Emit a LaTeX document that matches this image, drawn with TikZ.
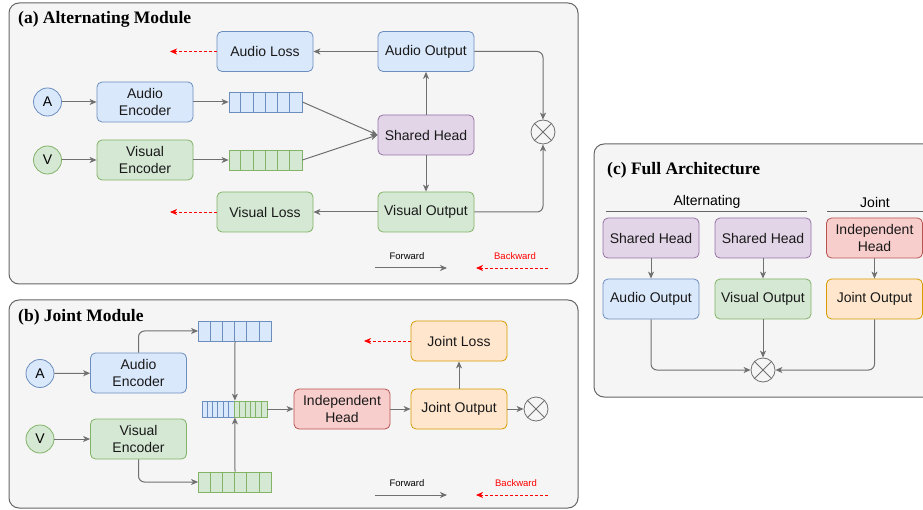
\documentclass[tikz,border=0pt]{standalone}
\usepackage{fontspec}
\setmainfont{Liberation Sans}
\newfontfamily\titlefont{Liberation Serif}
\usetikzlibrary{arrows.meta}

\definecolor{panelfill}{HTML}{F5F5F5}
\definecolor{panelline}{HTML}{666666}
\definecolor{arrowgray}{HTML}{707070}
\definecolor{bluefill}{HTML}{DAE8FC}
\definecolor{blueline}{HTML}{6C8EBF}
\definecolor{greenfill}{HTML}{D5E8D4}
\definecolor{greenline}{HTML}{82B366}
\definecolor{purplefill}{HTML}{E1D5E7}
\definecolor{purpleline}{HTML}{9673A6}
\definecolor{redfill}{HTML}{F8CECC}
\definecolor{redline}{HTML}{B85450}
\definecolor{orangefill}{HTML}{FFE6CC}
\definecolor{orangeline}{HTML}{D79B00}
\definecolor{backred}{HTML}{FF0000}

\newcommand{\boxfont}{\fontsize{14}{16.5}\selectfont}
\newcommand{\legendfont}{\fontsize{9.5}{11}\selectfont}
\newcommand{\panelfont}{\titlefont\bfseries\fontsize{17.5}{20}\selectfont}

\tikzset{
  panel/.style={fill=panelfill, draw=panelline, line width=1pt, rounded corners=10pt},
  paneltitle/.style={anchor=west, inner sep=0pt, font=\panelfont},
  box/.style={rounded corners=5pt, minimum width=96pt, minimum height=40pt,
    inner sep=0pt, align=center, font=\boxfont, line width=0.8pt, text=black!90},
  bluebox/.style={box, fill=bluefill, draw=blueline},
  greenbox/.style={box, fill=greenfill, draw=greenline},
  purplebox/.style={box, fill=purplefill, draw=purpleline},
  redbox/.style={box, fill=redfill, draw=redline},
  orangebox/.style={box, fill=orangefill, draw=orangeline},
  inputnode/.style={circle, minimum size=28pt, inner sep=0pt, font=\boxfont, line width=0.8pt},
  bluein/.style={inputnode, fill=bluefill, draw=blueline},
  greenin/.style={inputnode, fill=greenfill, draw=greenline},
  tokens/.style={minimum width=73pt, minimum height=20pt, inner sep=0pt, line width=0.8pt},
  bluetok/.style={tokens, fill=bluefill, draw=blueline},
  greentok/.style={tokens, fill=greenfill, draw=greenline},
  halftok/.style={minimum width=32.5pt, minimum height=16pt, inner sep=0pt, line width=0.8pt},
  combine/.style={circle, minimum size=24pt, inner sep=0pt, draw=arrowgray, line width=0.8pt},
  fwd/.style={draw=arrowgray, line width=1pt, -{Stealth[length=7pt, width=6pt, inset=2pt]}},
  bwd/.style={draw=backred, line width=0.9pt, dash pattern=on 3pt off 2pt,
    -{Stealth[length=7pt, width=6pt, inset=2pt]}},
  elbow/.style={fwd, rounded corners=6pt},
  legendtext/.style={font=\legendfont, inner sep=0pt},
  grouptext/.style={font=\boxfont, inner sep=0pt},
}

% cell dividers inside a token row
\newcommand{\cells}[4]{% node, number of cells, cell width, colour
  \foreach \i in {1,...,#2}{
    \draw[#4, line width=0.8pt] ([xshift=\i*#3]#1.north west) -- ([xshift=\i*#3]#1.south west);
  }
}
% a circle with a cross inside
\newcommand{\crossout}[1]{%
  \draw[arrowgray, line width=0.8pt] (#1.45) -- (#1.225) (#1.135) -- (#1.315);
}

\begin{document}
\begin{tikzpicture}[x=1pt, y=-1pt]
\useasboundingbox (0,0) rectangle (923,510);

% ---------------- panels ----------------
\draw[panel] (9,3) rectangle (578,284);
\draw[panel] (9,300) rectangle (578,508);
\draw[panel] (594,144) rectangle (940,397);

\node[paneltitle] (ta) at (18,19) {(a) Alternating Module};
\node[paneltitle] (tb) at (18,317) {(b) Joint Module};
\node[paneltitle] (tc) at (607,170) {(c) Full Architecture};

% ---------------- (a) alternating module ----------------
\node[bluein]  (aA) at (47.5,102) {A};
\node[greenin] (aV) at (47.5,160) {V};
\node[bluebox]  (aAE) at (145,102) {Audio\\Encoder};
\node[greenbox] (aVE) at (145,160) {Visual\\Encoder};
\node[bluetok]  (aAT) at (265.5,102) {};
\node[greentok] (aVT) at (265.5,160) {};
\cells{aAT}{5}{12.17pt}{blueline}
\cells{aVT}{5}{12.17pt}{greenline}
\node[bluebox]   (aAL) at (265,51.5) {Audio Loss};
\node[greenbox]  (aVL) at (265,212) {Visual Loss};
\node[bluebox]   (aAO) at (426,51.5) {Audio Output};
\node[purplebox] (aSH) at (426,135) {Shared Head};
\node[greenbox]  (aVO) at (426,212) {Visual Output};
\node[combine]   (aX)  at (543,132) {};
\crossout{aX}

\draw[fwd] (aA) -- (aAE);
\draw[fwd] (aV) -- (aVE);
\draw[fwd] (aAE) -- (aAT);
\draw[fwd] (aVE) -- (aVT);
\draw[fwd] (aAT.east) -- (aSH.west);
\draw[fwd] (aVT.east) -- (aSH.west);
\draw[fwd] (aSH) -- (aAO);
\draw[fwd] (aSH) -- (aVO);
\draw[fwd] (aAO) -- (aAL);
\draw[fwd] (aVO) -- (aVL);
\draw[elbow] (aAO.east) -| (aX.north);
\draw[elbow] (aVO.east) -| (aX.south);

\coordinate (aALend) at (170,51.5);
\coordinate (aVLend) at (170,212);
\draw[bwd] (aAL.west) -- (aALend);
\draw[bwd] (aVL.west) -- (aVLend);

% legend
\node[legendtext] (aFwd) at (407,256) {Forward};
\node[legendtext, text=backred] (aBwd) at (515,256) {Backward};
\coordinate (aF1) at (375,268);
\coordinate (aF2) at (447,268);
\coordinate (aB1) at (548,268);
\coordinate (aB2) at (476,268);
\draw[fwd] (aF1) -- (aF2);
\draw[bwd] (aB1) -- (aB2);

% ---------------- (b) joint module ----------------
\node[bluein]  (bA) at (40,373.5) {A};
\node[greenin] (bV) at (40,439) {V};
\node[bluebox]  (bAE) at (138.5,373) {Audio\\Encoder};
\node[greenbox] (bVE) at (138.5,439) {Visual\\Encoder};
\node[bluetok]  (bAT) at (235,331) {};
\node[greentok] (bVT) at (235,482) {};
\cells{bAT}{5}{12.17pt}{blueline}
\cells{bVT}{5}{12.17pt}{greenline}
\node[halftok, fill=bluefill, draw=blueline]   (bMA) at (218.25,409) {};
\node[halftok, fill=greenfill, draw=greenline] (bMV) at (250.75,409) {};
\cells{bMA}{5}{5.42pt}{blueline}
\cells{bMV}{5}{5.42pt}{greenline}
\node[redbox]    (bIH) at (342,409) {Independent\\Head};
\node[orangebox] (bJO) at (459,409) {Joint Output};
\node[orangebox] (bJL) at (459,341) {Joint Loss};
\node[combine]   (bX)  at (536,409) {};
\crossout{bX}

\draw[fwd] (bA) -- (bAE);
\draw[fwd] (bV) -- (bVE);
\draw[elbow] (bAE.north) |- (bAT.west);
\draw[elbow] (bVE.south) |- (bVT.west);
\draw[fwd] (bAT.south) -- (bMA.north east);
\draw[fwd] (bVT.north) -- (bMA.south east);
\draw[fwd] (bMV.east) -- (bIH.west);
\draw[fwd] (bIH) -- (bJO);
\draw[fwd] (bJO) -- (bJL);
\draw[fwd] (bJO) -- (bX);

\coordinate (bJLend) at (364,341);
\draw[bwd] (bJL.west) -- (bJLend);

% legend
\node[legendtext] (bFwd) at (407,483) {Forward};
\node[legendtext, text=backred] (bBwd) at (516,483) {Backward};
\coordinate (bF1) at (375,495);
\coordinate (bF2) at (447,495);
\coordinate (bB1) at (548,495);
\coordinate (bB2) at (476,495);
\draw[fwd] (bF1) -- (bF2);
\draw[bwd] (bB1) -- (bB2);

% ---------------- (c) full architecture ----------------
\node[grouptext] (cAlt) at (707,202) {Alternating};
\node[grouptext] (cJnt) at (875,202) {Joint};
\draw[panelline, line width=1pt] (606,212) -- (807,212);
\draw[panelline, line width=1pt] (827,212) -- (930,212);

\node[purplebox] (cSH1) at (651,238) {Shared Head};
\node[purplebox] (cSH2) at (763,238) {Shared Head};
\node[redbox]    (cIH)  at (874.5,238) {Independent\\Head};
\node[bluebox]   (cAO)  at (651,299) {Audio Output};
\node[greenbox]  (cVO)  at (763,299) {Visual Output};
\node[orangebox] (cJO)  at (874.5,299) {Joint Output};
\node[combine]   (cX)   at (763,370) {};
\crossout{cX}

\draw[fwd] (cSH1) -- (cAO);
\draw[fwd] (cSH2) -- (cVO);
\draw[fwd] (cIH) -- (cJO);
\draw[fwd] (cVO) -- (cX);
\draw[elbow] (cAO.south) |- (cX.west);
\draw[elbow] (cJO.south) |- (cX.east);

\end{tikzpicture}
\end{document}
